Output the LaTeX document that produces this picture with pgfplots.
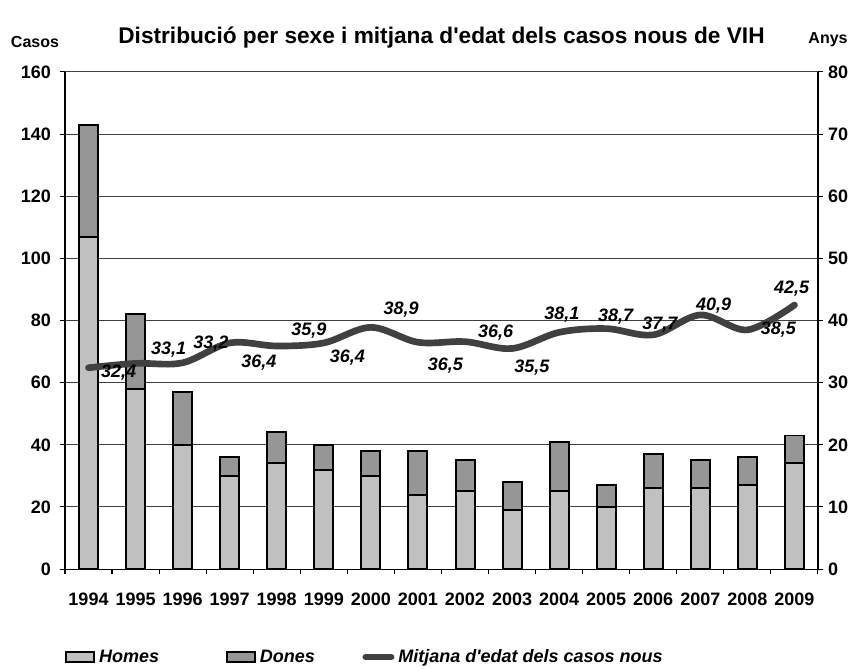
\documentclass[border=0pt]{standalone}
\usepackage{fontspec}
\setmainfont{Liberation Sans}[Ligatures=TeXOff]
\usepackage{pgfplots}
\usepackage{pgfplotstable}
\pgfplotsset{compat=1.18}
\usetikzlibrary{calc}
\definecolor{homes}{HTML}{C0C0C0}
\definecolor{dones}{HTML}{969696}
\definecolor{edat}{HTML}{404040}

\pgfplotstableread{
any homes dones edat
1994 107 36 32.4
1995 58 24 33.1
1996 40 17 33.2
1997 30 6 36.4
1998 34 10 35.9
1999 32 8 36.4
2000 30 8 38.9
2001 24 14 36.5
2002 25 10 36.6
2003 19 9 35.5
2004 25 16 38.1
2005 20 7 38.7
2006 26 11 37.7
2007 26 9 40.9
2008 27 9 38.5
2009 34 9 42.5
}\casos

% label positions (x, y in years) of the value labels
\pgfplotstableread{
x y lab
1994.64 31.7 32,4
1995.70 35.3 33,1
1996.60 36.3 33,2
1997.62 33.3 36,4
1998.68 38.3 35,9
1999.50 34.0 36,4
2000.64 41.7 38,9
2001.58 32.8 36,5
2002.65 38.0 36,6
2003.42 32.5 35,5
2004.06 40.9 38,1
2005.20 40.6 38,7
2006.14 39.3 37,7
2007.28 42.4 40,9
2008.66 38.5 38,5
2008.94 45.2 42,5
}\etiq

\newcommand{\tickfont}{\fontsize{13.5}{15}\selectfont\bfseries}
\pgfplotsset{
  boxlegend/.style={legend image code/.code={\draw[##1] (0pt,-3.8pt) rectangle (21pt,3.8pt);}},
  linelegend/.style={legend image code/.code={\draw[##1] (2pt,0pt) -- (21pt,0pt);}},
}

\begin{document}
\begin{tikzpicture}
\pgfplotsset{
  every axis/.append style={
    width=565pt, height=373pt, scale only axis,
    xmin=1993.5, xmax=2009.5,
    axis line style={-, black, line width=0.8pt},
    tick align=outside,
    tick label style={font=\tickfont},
    /pgf/number format/assume math mode=true,
  },
}
\begin{axis}[
    name=ax,
    ybar stacked,
    bar width=14.25pt,
    ymin=0, ymax=160,
    ytick={0,20,...,160},
    axis y line*=left,
    axis x line*=bottom,
    xtick={1994,...,2009},
    xticklabels={1994,1995,1996,1997,1998,1999,2000,2001,2002,2003,2004,2005,2006,2007,2008,2009},
    major x tick style={draw=none},
    minor xtick={1993.5,1994.5,...,2009.5},
    minor x tick style={black, line width=0.8pt},
    minor tick length=4pt,
    major tick length=4pt,
    y tick style={black, line width=0.8pt},
    xticklabel style={yshift=-10pt},
    yticklabel style={xshift=-3pt},
    ymajorgrids,
    major grid style={black!75, line width=0.8pt},
    legend columns=3,
    legend style={at={(0,-0.177)}, anchor=west, draw=none, fill=none,
      font=\fontsize{13.5}{15}\selectfont\bfseries\itshape,
      /tikz/every odd column/.append style={column sep=1pt},
      inner xsep=0pt},
    legend cell align=left,
]
\addplot[fill=homes, draw=black, line width=1.5pt, boxlegend]
  table[x=any, y=homes] {\casos};
\addlegendentry{\makebox[93pt][l]{Homes}}
\addplot[fill=dones, draw=black, line width=1.5pt, boxlegend]
  table[x=any, y=dones] {\casos};
\addlegendentry{\makebox[75pt][l]{Dones}}
\addlegendimage{edat, line width=5pt, line cap=round, linelegend}
\addlegendentry{Mitjana d'edat dels casos nous}
\end{axis}

\begin{axis}[
    ymin=0, ymax=80,
    ytick={0,10,...,80},
    axis y line*=right,
    axis x line=none,
    major tick length=4pt,
    y tick style={black, line width=0.8pt},
]
\addplot[edat, line width=5pt, smooth, tension=0.55, line cap=round]
  table[x=any, y=edat] {\casos};
\addplot[draw=none, mark=none, nodes near coords, point meta=explicit symbolic,
  nodes near coords align=center,
  every node near coord/.append style={font=\fontsize{13.5}{15}\selectfont\bfseries\itshape, inner sep=0pt}]
  table[x=x, y=y, meta=lab] {\etiq};
\end{axis}

\node[font=\fontsize{17}{19}\selectfont\bfseries] at ($(ax.north)+(0,26pt)$)
  {Distribució per sexe i mitjana d'edat dels casos nous de VIH};
\node[font=\fontsize{12}{14}\selectfont\bfseries] at ($(ax.north west)+(-22.5pt,22.5pt)$) {Casos};
\node[font=\fontsize{12}{14}\selectfont\bfseries] at ($(ax.north east)+(7.5pt,24pt)$) {Anys};

\pgfresetboundingbox
\path[use as bounding box] ($(ax.south west)+(-48.75pt,-75pt)$) rectangle ($(ax.north east)+(22.5pt,54pt)$);
\end{tikzpicture}
\end{document}
